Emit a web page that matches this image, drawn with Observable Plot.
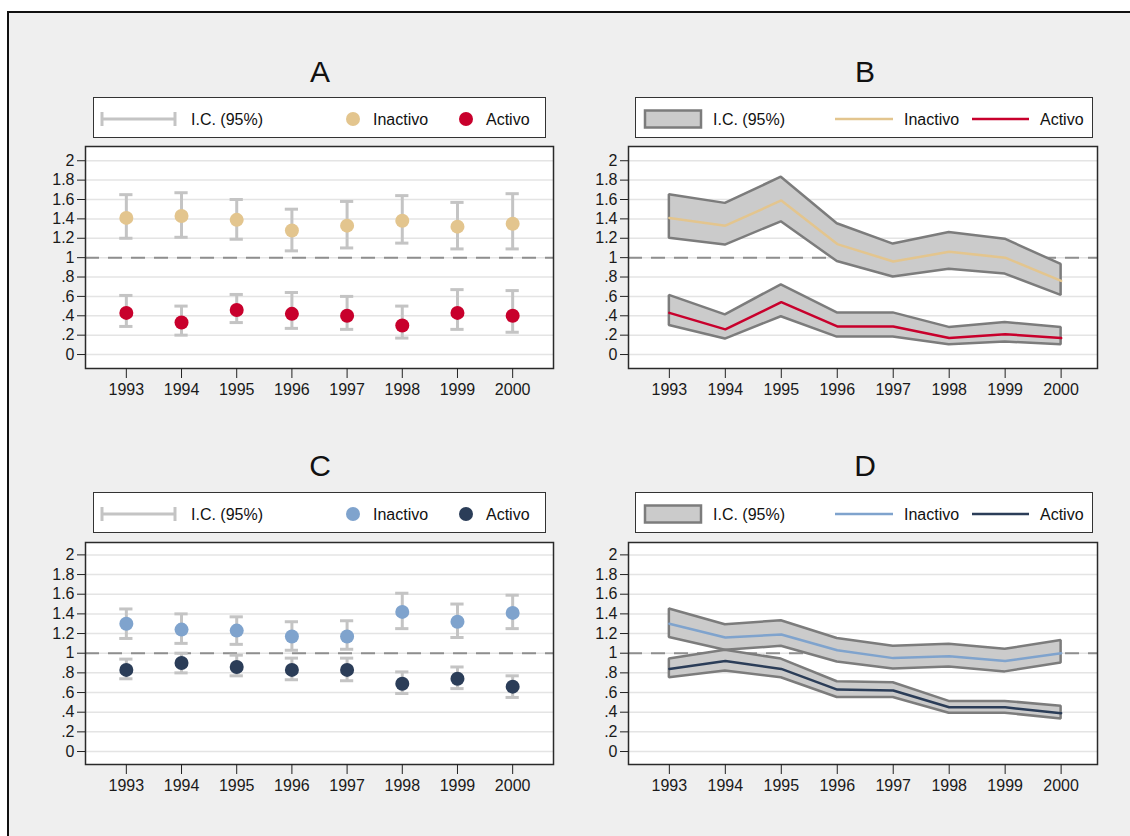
<!DOCTYPE html>
<html><head><meta charset="utf-8">
<script src="https://cdn.jsdelivr.net/npm/d3@7"></script>
<script src="https://cdn.jsdelivr.net/npm/@observablehq/plot@0.6"></script>
<style>
html,body{margin:0;padding:0;background:#fff;width:1130px;height:836px;overflow:hidden;font-family:"Liberation Sans",Arial,sans-serif;}
#outer{position:absolute;left:7px;top:11px;width:1140px;height:840px;background:#efefef;border-left:2px solid #111;border-top:2px solid #111;}
.abs{position:absolute;}
.title{position:absolute;font-size:30px;color:#111;transform:translate(-50%,-50%);line-height:1;}
.legend{position:absolute;background:#fff;border:1.5px solid #333;box-sizing:border-box;height:41px;}
.legend span{position:absolute;top:calc(50% + 2px);transform:translateY(-50%);font-size:16px;color:#111;white-space:nowrap;}
.legend svg{position:absolute;top:0;left:0;}
</style>
</head><body>
<div id="outer"></div>
<div id="root"></div>
<script>
// ---------- data ----------
const years = [1993, 1994, 1995, 1996, 1997, 1998, 1999, 2000];
const yTicks = [0, 0.2, 0.4, 0.6, 0.8, 1, 1.2, 1.4, 1.6, 1.8, 2];

// Panel A (points + 95% CI)
const A_inact = [1.41, 1.43, 1.39, 1.28, 1.33, 1.38, 1.32, 1.35];
const A_inact_lo = [1.20, 1.21, 1.19, 1.07, 1.10, 1.15, 1.09, 1.09];
const A_inact_hi = [1.65, 1.67, 1.60, 1.50, 1.58, 1.64, 1.57, 1.66];
const A_act = [0.43, 0.33, 0.46, 0.42, 0.40, 0.30, 0.43, 0.40];
const A_act_lo = [0.29, 0.20, 0.33, 0.27, 0.26, 0.17, 0.26, 0.23];
const A_act_hi = [0.61, 0.50, 0.62, 0.64, 0.60, 0.50, 0.67, 0.66];

// Panel B (lines + 95% CI band)
const B_inact = [1.41, 1.33, 1.59, 1.14, 0.96, 1.06, 1.00, 0.76];
const B_inact_lo = [1.20, 1.13, 1.37, 0.96, 0.80, 0.88, 0.83, 0.61];
const B_inact_hi = [1.65, 1.56, 1.83, 1.35, 1.14, 1.26, 1.19, 0.93];
const B_act = [0.43, 0.26, 0.54, 0.29, 0.29, 0.17, 0.21, 0.17];
const B_act_lo = [0.30, 0.16, 0.39, 0.18, 0.18, 0.10, 0.13, 0.10];
const B_act_hi = [0.61, 0.41, 0.72, 0.43, 0.43, 0.28, 0.33, 0.28];

// Panel C (points + 95% CI)
const C_inact = [1.30, 1.24, 1.23, 1.17, 1.17, 1.42, 1.32, 1.41];
const C_inact_lo = [1.15, 1.10, 1.09, 1.03, 1.04, 1.25, 1.16, 1.25];
const C_inact_hi = [1.45, 1.40, 1.37, 1.32, 1.33, 1.61, 1.50, 1.59];
const C_act = [0.83, 0.90, 0.86, 0.83, 0.83, 0.69, 0.74, 0.66];
const C_act_lo = [0.74, 0.80, 0.77, 0.73, 0.72, 0.59, 0.64, 0.55];
const C_act_hi = [0.94, 1.00, 0.98, 0.95, 0.95, 0.81, 0.86, 0.77];

// Panel D (lines + 95% CI band)
const D_inact = [1.30, 1.16, 1.19, 1.03, 0.95, 0.97, 0.92, 1.00];
const D_inact_lo = [1.16, 1.03, 1.07, 0.91, 0.84, 0.86, 0.81, 0.90];
const D_inact_hi = [1.45, 1.29, 1.33, 1.15, 1.07, 1.09, 1.04, 1.13];
const D_act = [0.84, 0.92, 0.84, 0.63, 0.62, 0.45, 0.45, 0.39];
const D_act_lo = [0.75, 0.82, 0.75, 0.55, 0.55, 0.39, 0.39, 0.33];
const D_act_hi = [0.94, 1.03, 0.94, 0.71, 0.70, 0.51, 0.51, 0.46];

const seriesNames = ["Inactivo", "Activo"];
const ciLabel = "I.C. (95%)";
const panelTitles = ["A", "B", "C", "D"];

// ---------- helpers ----------
function rows(est, lo, hi, name) {
  return years.map((y, i) => ({year: y, est: est[i], lo: lo[i], hi: hi[i], series: name}));
}
const yFmt = d => { const s = String(+d.toFixed(1)); return s.replace(/^0\./, "."); };
const root = document.getElementById("root");

function drawPanel(cfg) {
  const {type, inact, act, colors, left, top, width, xDomain, yDomain} = cfg;
  const marks = [
    Plot.frame({fill: "white"}),
    Plot.gridY(yTicks, {stroke: "#e4e4e4", strokeOpacity: 1, strokeWidth: 1.5}),
    Plot.ruleY([1], {stroke: "#8e8e8e", strokeWidth: 2, strokeDasharray: "14,9"})
  ];
  const sets = [[inact, colors[0]], [act, colors[1]]];
  if (type === "points") {
    for (const [data, c] of sets) {
      marks.push(Plot.ruleX(data, {x: "year", y1: "lo", y2: "hi", stroke: "#c4c4c4", strokeWidth: 3}));
      marks.push(Plot.ruleY(data, {y: "lo", x1: d => d.year - 0.12, x2: d => d.year + 0.12, stroke: "#c4c4c4", strokeWidth: 3}));
      marks.push(Plot.ruleY(data, {y: "hi", x1: d => d.year - 0.12, x2: d => d.year + 0.12, stroke: "#c4c4c4", strokeWidth: 3}));
    }
    for (const [data, c] of sets) {
      marks.push(Plot.dot(data, {x: "year", y: "est", r: 7, fill: c, stroke: "none"}));
    }
  } else {
    for (const [data, c] of sets) {
      marks.push(Plot.areaY(data, {x: "year", y1: "lo", y2: "hi", fill: "#cbcbcb", fillOpacity: 1, stroke: "#7c7c7c", strokeWidth: 2.5, strokeLinejoin: "miter"}));
    }
    for (const [data, c] of sets) {
      marks.push(Plot.lineY(data, {x: "year", y: "est", stroke: c, strokeWidth: 2.5}));
    }
  }
  marks.push(Plot.frame({stroke: "#2a2a2a", strokeWidth: 1.5}));
  marks.push(Plot.axisY(yTicks, {tickFormat: yFmt, tickSize: 8, tickPadding: 3, fontSize: 16, stroke: "#222", fill: "#1a1a1a", label: null}));
  marks.push(Plot.axisX(years, {tickFormat: d => String(d), tickSize: 10, tickPadding: 5, fontSize: 16, stroke: "#222", fill: "#1a1a1a", label: null}));

  const chart = Plot.plot({
    width, height: 270,
    marginLeft: 60, marginRight: 22, marginTop: 6, marginBottom: 42,
    x: {domain: xDomain},
    y: {domain: yDomain},
    style: {background: "transparent", fontFamily: "'Liberation Sans', Arial, sans-serif", overflow: "visible"},
    marks
  });
  chart.classList.add("abs");
  chart.style.left = left + "px";
  chart.style.top = top + "px";
  root.appendChild(chart);
}

function drawTitle(text, cx, cy) {
  const d = document.createElement("div");
  d.className = "title"; d.textContent = text;
  d.style.left = cx + "px"; d.style.top = cy + "px";
  root.appendChild(d);
}

function drawLegend(type, colors, left, top, width) {
  const box = document.createElement("div");
  box.className = "legend";
  box.style.left = left + "px"; box.style.top = top + "px"; box.style.width = width + "px";
  const ns = "http://www.w3.org/2000/svg";
  const svg = document.createElementNS(ns, "svg");
  svg.setAttribute("width", width); svg.setAttribute("height", 40);
  const cy = 21;
  const add = (tag, attrs) => { const e = document.createElementNS(ns, tag); for (const k in attrs) e.setAttribute(k, attrs[k]); svg.appendChild(e); };
  let pos;
  if (type === "points") {
    add("line", {x1: 7, x2: 82, y1: cy, y2: cy, stroke: "#c4c4c4", "stroke-width": 3});
    add("line", {x1: 8, x2: 8, y1: cy - 7, y2: cy + 7, stroke: "#c4c4c4", "stroke-width": 3});
    add("line", {x1: 81, x2: 81, y1: cy - 7, y2: cy + 7, stroke: "#c4c4c4", "stroke-width": 3});
    add("circle", {cx: 259, cy, r: 7, fill: colors[0]});
    add("circle", {cx: 372, cy, r: 7, fill: colors[1]});
    pos = [97, 279, 392];
  } else {
    add("rect", {x: 9, y: cy - 8.5, width: 56, height: 17, fill: "#cbcbcb", stroke: "#7c7c7c", "stroke-width": 2.5});
    add("line", {x1: 199, x2: 257, y1: cy, y2: cy, stroke: colors[0], "stroke-width": 2.5});
    add("line", {x1: 336, x2: 393, y1: cy, y2: cy, stroke: colors[1], "stroke-width": 2.5});
    pos = [77, 268, 404];
  }
  box.appendChild(svg);
  [ciLabel, seriesNames[0], seriesNames[1]].forEach((t, i) => {
    const s = document.createElement("span");
    s.textContent = t; s.style.left = pos[i] + "px";
    box.appendChild(s);
  });
  root.appendChild(box);
}

const colA = ["#e3c58e", "#c8002c"];
const colC = ["#7fa3cd", "#2b3d58"];
const xDomL = [1992.26, 2000.74];
const xDomR = [1992.27, 2000.65];
const yDomTop = [-0.144, 2.147];
const yDomBot = [-0.132, 2.126];

drawTitle(panelTitles[0], 320, 72);
drawTitle(panelTitles[1], 865, 72);
drawTitle(panelTitles[2], 320, 466);
drawTitle(panelTitles[3], 865, 466);

drawLegend("points", colA, 93, 97, 453);
drawLegend("lines", colA, 635, 97, 458);
drawLegend("points", colC, 93, 492, 453);
drawLegend("lines", colC, 635, 492, 458);

drawPanel({type: "points", inact: rows(A_inact, A_inact_lo, A_inact_hi, "Inactivo"), act: rows(A_act, A_act_lo, A_act_hi, "Activo"),
  colors: colA, left: 25, top: 140, width: 550, xDomain: xDomL, yDomain: yDomTop});
drawPanel({type: "lines", inact: rows(B_inact, B_inact_lo, B_inact_hi, "Inactivo"), act: rows(B_act, B_act_lo, B_act_hi, "Activo"),
  colors: colA, left: 568, top: 140, width: 551, xDomain: xDomR, yDomain: yDomTop});
drawPanel({type: "points", inact: rows(C_inact, C_inact_lo, C_inact_hi, "Inactivo"), act: rows(C_act, C_act_lo, C_act_hi, "Activo"),
  colors: colC, left: 25, top: 536, width: 550, xDomain: xDomL, yDomain: yDomBot});
drawPanel({type: "lines", inact: rows(D_inact, D_inact_lo, D_inact_hi, "Inactivo"), act: rows(D_act, D_act_lo, D_act_hi, "Activo"),
  colors: colC, left: 568, top: 536, width: 551, xDomain: xDomR, yDomain: yDomBot});
</script>
</body></html>
